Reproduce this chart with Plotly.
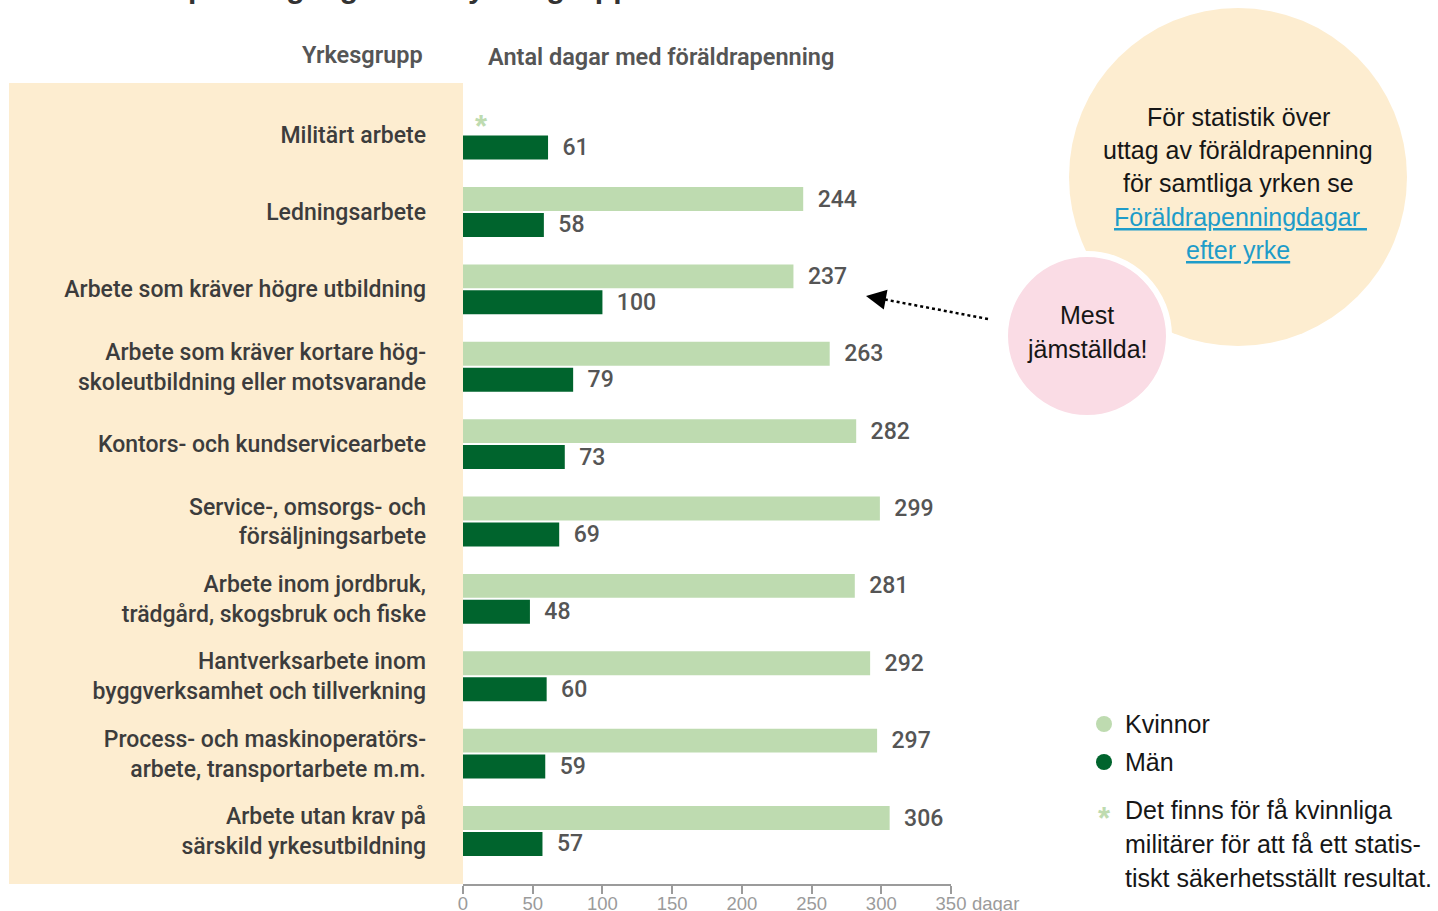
import plotly.graph_objects as go

W, H = 1438, 911

categories = [
    "Militärt arbete",
    "Ledningsarbete",
    "Arbete som kräver högre utbildning",
    "Arbete som kräver kortare hög-<br>skoleutbildning eller motsvarande",
    "Kontors- och kundservicearbete",
    "Service-, omsorgs- och<br>försäljningsarbete",
    "Arbete inom jordbruk,<br>trädgård, skogsbruk och fiske",
    "Hantverksarbete inom<br>byggverksamhet och tillverkning",
    "Process- och maskinoperatörs-<br>arbete, transportarbete m.m.",
    "Arbete utan krav på<br>särskild yrkesutbildning",
]
kvinnor = [None, 244, 237, 263, 282, 299, 281, 292, 297, 306]
man = [61, 58, 100, 79, 73, 69, 48, 60, 59, 57]
x_ticks = [0, 50, 100, 150, 200, 250, 300, 350]

LIGHT = "#BEDBB0"
DARK = "#00642D"
LABEL = "#3C3C3C"
VAL = "#555555"
BEIGE = "#FDEDD0"
PINK = "#FADCE5"
AXIS = "#9B9B9B"
LINK = "#1E9CC9"


def px(x):
    return x / W


def py(y):
    return 1 - y / H


NB = "\u00a0\u00a0"

fig = go.Figure()
fig.add_trace(go.Bar(
    y=categories, x=kvinnor, orientation="h", name="Kvinnor",
    marker=dict(color=LIGHT, line=dict(width=0)),
    text=[("" if v is None else NB + str(v)) for v in kvinnor],
    textposition="outside", constraintext="none", cliponaxis=False,
    textfont=dict(family="Roboto", size=23, color=VAL, weight=500),
    hoverinfo="skip",
))
fig.add_trace(go.Bar(
    y=categories, x=man, orientation="h", name="Män",
    marker=dict(color=DARK, line=dict(width=0)),
    text=[NB + str(v) for v in man],
    textposition="outside", constraintext="none", cliponaxis=False,
    textfont=dict(family="Roboto", size=23, color=VAL, weight=500),
    hoverinfo="skip",
))

shapes = [
    # beige label panel
    dict(type="rect", xref="paper", yref="paper", x0=px(9), x1=px(463),
         y0=py(884), y1=py(83), fillcolor=BEIGE, line=dict(width=0), layer="below"),
    # big info circle
    dict(type="circle", xref="paper", yref="paper", x0=px(1069), x1=px(1407),
         y0=py(346), y1=py(8), fillcolor=BEIGE, line=dict(width=0), layer="below"),
    # pink circle
    dict(type="circle", xref="paper", yref="paper", x0=px(1005), x1=px(1169),
         y0=py(418), y1=py(254), fillcolor=PINK, line=dict(color="white", width=6), layer="below"),
    # dotted arrow line
    dict(type="line", xref="paper", yref="paper", x0=px(988), y0=py(319), x1=px(882), y1=py(299),
         line=dict(color="black", width=2.5, dash="dot")),
    # legend dots
    dict(type="circle", xref="paper", yref="paper", x0=px(1096), x1=px(1112),
         y0=py(732), y1=py(716), fillcolor=LIGHT, line=dict(width=0)),
    dict(type="circle", xref="paper", yref="paper", x0=px(1096), x1=px(1112),
         y0=py(770), y1=py(754), fillcolor=DARK, line=dict(width=0)),
]

REG = "Liberation Sans"
ann = []


def text(t, x, y, size=25, color="#161616", xanchor="center", family=REG, weight=400):
    ann.append(dict(text=t, x=px(x), y=py(y), xref="paper", yref="paper", showarrow=False,
                    xanchor=xanchor, yanchor="middle",
                    font=dict(family=family, size=size, color=color, weight=weight)))


# cut-off title (only descenders visible in the reference)
ann.append(dict(text="<b>Föräldrapenningdagar efter yrkesgrupp</b>", x=px(66), y=py(6),
                xref="paper", yref="paper", showarrow=False, xanchor="left", yanchor="bottom",
                font=dict(family=REG, size=30, color="#333333")))

# headers
text("Yrkesgrupp", 425, 55, size=23.5, color=VAL, xanchor="right", family="Roboto", weight=600)
text("Antal dagar med föräldrapenning", 486, 57, size=23.5, color=VAL, xanchor="left",
     family="Roboto", weight=600)

# asterisk for military women
ann.append(dict(text="<b>*</b>", x=0, y=categories[0], xref="x", yref="y", showarrow=False,
                xanchor="center", yanchor="middle", xshift=18, yshift=8.6,
                font=dict(family=REG, size=31, color=LIGHT)))

# x axis unit
text("dagar", 970, 903, size=18.5, color=AXIS, xanchor="left")

# big circle text
circle_lines = ["För statistik över", "uttag av föräldrapenning", "för samtliga yrken se"]
for i, t in enumerate(circle_lines):
    text(t, 1238, 117 + 33 * i)
text("<a href='https://www.scb.se'><span style='color:%s;text-decoration:underline'>"
     "Föräldrapenningdagar\u00a0</span></a>" % LINK, 1240, 217, color=LINK)
text("<a href='https://www.scb.se'><span style='color:%s;text-decoration:underline'>"
     "efter yrke</span></a>" % LINK, 1238, 250, color=LINK)

# pink circle text
text("Mest", 1087, 315)
text("jämställda!", 1087, 349)

# arrow head
ann.append(dict(text="", x=px(866), y=py(296), xref="paper", yref="paper", showarrow=True,
                ax=16, ay=3, arrowhead=2, arrowsize=2, arrowwidth=2, arrowcolor="black",
                standoff=0))

# legend
text("Kvinnor", 1123, 724, xanchor="left")
text("Män", 1123, 762, xanchor="left")
text("<b>*</b>", 1104, 818, size=31, color=LIGHT)
foot = ["Det finns för få kvinnliga", "militärer för att få ett statis-",
        "tiskt säkerhetsställt resultat."]
for i, t in enumerate(foot):
    text(t, 1123, 810 + 34 * i, xanchor="left")

fig.update_layout(
    width=W, height=H, margin=dict(l=0, r=0, t=0, b=0, autoexpand=False),
    paper_bgcolor="white", plot_bgcolor="rgba(0,0,0,0)",
    barmode="group", bargap=0.33, bargroupgap=0.077,
    showlegend=False,
    shapes=shapes, annotations=ann,
    xaxis=dict(domain=[px(463), px(951)], range=[0, 350], tickvals=x_ticks, automargin=False,
               showgrid=False, zeroline=False, showline=True, linecolor=AXIS, linewidth=1.5,
               ticks="outside", ticklen=8, tickcolor=AXIS, tickwidth=1.5,
               ticklabelstandoff=-6,
               tickfont=dict(family=REG, size=18.5, color=AXIS), fixedrange=True),
    yaxis=dict(domain=[py(884), py(83)], range=[9.685, -0.667], type="category",
               categoryorder="array", categoryarray=categories, automargin=False,
               showgrid=False, zeroline=False, showline=False, ticks="",
               ticklabelstandoff=36,
               tickfont=dict(family="Roboto", size=23, color=LABEL, weight=500), fixedrange=True),
)

fig.write_html(
    "out.html",
    config={"displayModeBar": False},
    post_script="document.documentElement.style.overflow='hidden';"
                "document.body.style.margin='0';document.body.style.overflow='hidden';",
)
